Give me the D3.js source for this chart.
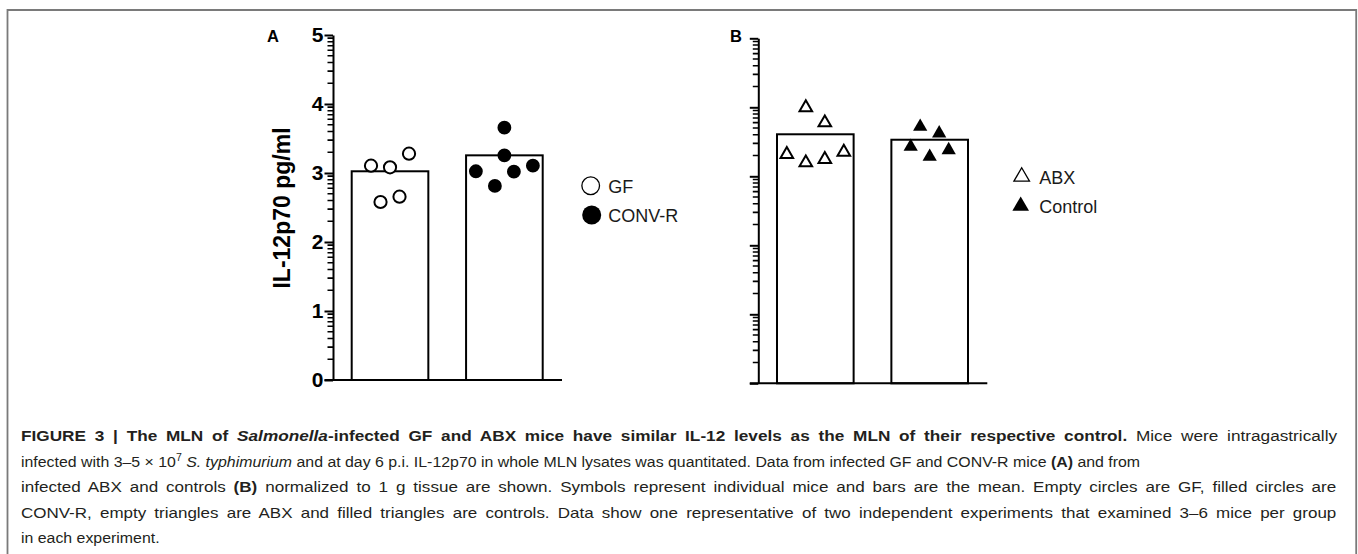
<!DOCTYPE html>
<html>
<head>
<meta charset="utf-8">
<script src="https://cdn.jsdelivr.net/npm/d3@7"></script>
<style>
  body { margin: 0; background: #fff; }
  svg { display: block; font-family: "Liberation Sans", Arial, Helvetica, sans-serif; }
</style>
</head>
<body>
<script>
// IL-12p70 in MLN lysates (pg/ml, log axis, labels are log10)
const groupsA = ["GF", "CONV-R"];
const gfValues = [1276, 1208, 1905, 380, 454];
const gfJitter = [-2, 0, 2, -1, 1];
const convValues = [4540, 1803, 1059, 1045, 1276, 649];
const convJitter = [0, 0, -3, 1, 3, -1];
const meansA = [1059, 1803];

const groupsB = ["ABX", "Control"];
const abxValues = [9908, 5984, 2084, 1574, 1762, 2249];
const abxJitter = [-1, 1, -3, -1, 1, 3];
const ctrlValues = [5236, 4198, 2685, 1923, 2404];
const ctrlJitter = [-1, 1, -2, 0, 2];
const meansB = [4064, 3388];

const majorTicks = [1, 10, 100, 1000, 10000, 100000];
const minorMult = [2, 3, 4, 5, 6, 7, 8, 9];
const yLabel = "IL-12p70 pg/ml";

const w = 1358;
const h = 554;

const svg = d3.select("body")
              .append("svg")
                .attr("width", w)
                .attr("height", h);

// frame around figure + caption
svg.append("path")
    .attr("d", "M7.5," + h + "V10H1356.2V" + h)
    .attr("fill", "none")
    .attr("stroke", "#7a7a7a")
    .attr("stroke-width", 1.8);

function plot(p){
  const g = svg.append("g")
              .attr("transform", "translate(" + p.x0 + "," + p.y0 + ")");

  const y = d3.scaleLog()
              .domain([1, 100000])
              .range([0, -345]);

  const x = d3.scaleBand()
              .domain(p.groups)
              .range([18.7, 209.7])
              .paddingInner(0.33)
              .paddingOuter(0);

  const jit = d3.scaleLinear()
                .domain([-3, 3])
                .range([-28.5, 28.5]);

  // bars (mean)
  g.selectAll(".bar")
    .data(p.means)
    .enter()
      .append("rect")
      .classed("bar", true)
      .attr("x", (d, i) => x(p.groups[i]))
      .attr("y", d => y(d))
      .attr("width", x.bandwidth())
      .attr("height", d => y(1) - y(d))
      .attr("fill", "#fff")
      .attr("stroke", "#000")
      .attr("stroke-width", 2);

  // individual mice
  p.series.forEach((s, si) => {
    const cx = x(p.groups[si]) + x.bandwidth() / 2;
    g.selectAll(".pt" + si)
      .data(s.values)
      .enter()
        .append("path")
        .attr("transform", (d, i) => "translate(" + (cx + jit(s.jitter[i])) + "," + y(d) + ")")
        .attr("d", d3.symbol().type(s.shape).size(s.filled ? s.size : s.size * 0.78))
        .attr("fill", s.filled ? "#000" : "#fff")
        .attr("stroke", "#000")
        .attr("stroke-width", s.filled ? 0 : 2);
  });

  // major ticks and axis
  const yAxis = g.append("g")
                  .call(d3.axisLeft(y)
                          .tickValues(majorTicks)
                          .tickSize(8.5)
                          .tickSizeOuter(0)
                          .tickPadding(1)
                          .tickFormat(d => p.labels ? Math.round(Math.log10(d)) : ""));
  yAxis.select(".domain").attr("stroke-width", 2);
  yAxis.selectAll("line").attr("stroke-width", 2);
  yAxis.selectAll("text")
        .style("font-size", "21px")
        .style("font-weight", "bold")
        .attr("fill", "#000");

  // minor ticks (2..9 x 10^k) as one path
  const minorVals = [];
  majorTicks.slice(0, -1).forEach(m => minorMult.forEach(c => minorVals.push(c * m)));
  g.append("path")
    .attr("class", "minor-ticks")
    .attr("d", minorVals.map(d => "M-5.5," + y(d).toFixed(2) + "H0").join(""))
    .attr("fill", "none")
    .attr("stroke", "#000")
    .attr("stroke-width", 1.6);

  // x baseline
  g.append("line")
    .attr("x1", -8.5)
    .attr("x2", 229)
    .attr("y1", y(1))
    .attr("y2", y(1))
    .attr("stroke", "#000")
    .attr("stroke-width", 2);

  // panel letter
  svg.append("text")
      .attr("x", p.letterX)
      .attr("y", 42)
      .style("font-size", "16.5px")
      .style("font-weight", "bold")
      .text(p.letter);

  // legend
  const lg = g.append("g")
              .attr("transform", "translate(" + p.legend[0] + "," + p.legend[1] + ")");
  p.series.forEach((s, si) => {
    lg.append("path")
      .attr("transform", "translate(" + (s.shape === d3.symbolTriangle ? -1 * si : si) + "," + (si * 29.3) + ")")
      .attr("d", d3.symbol().type(s.shape).size(s.legendSize))
      .attr("fill", s.filled ? "#000" : "#fff")
      .attr("stroke", "#000")
      .attr("stroke-width", s.filled ? 0 : 1.3);
    lg.append("text")
      .attr("x", 17.5)
      .attr("y", si * 29.3 + 1)
      .attr("dy", "0.35em")
      .style("font-size", "18px")
      .attr("fill", "#1a1a1a")
      .text(p.groups[si]);
  });

  return g;
}

// panel A
const gA = plot({
  x0: 333, y0: 380, letter: "A", letterX: 267, labels: true,
  groups: groupsA, means: meansA, legend: [257.7, -194.3],
  series: [
    {values: gfValues, jitter: gfJitter, shape: d3.symbolCircle, filled: false, size: 150, legendSize: 245},
    {values: convValues, jitter: convJitter, shape: d3.symbolCircle, filled: true, size: 150, legendSize: 285}
  ]
});

gA.append("text")
    .attr("transform", "translate(-51,-172) rotate(-90)")
    .attr("text-anchor", "middle")
    .attr("dy", "0.35em")
    .style("font-size", "23px")
    .style("font-weight", "bold")
    .text(yLabel);

// panel B
plot({
  x0: 758.3, y0: 383.3, letter: "B", letterX: 730, labels: false,
  groups: groupsB, means: meansB, legend: [263.4, -206.6],
  series: [
    {values: abxValues, jitter: abxJitter, shape: d3.symbolTriangle, filled: false, size: 88, legendSize: 105},
    {values: ctrlValues, jitter: ctrlJitter, shape: d3.symbolTriangle, filled: true, size: 88, legendSize: 120}
  ]
});

// caption
const captionLines = [
  [["b", "FIGURE 3 | The MLN of "], ["bi", "Salmonella"], ["b", "-infected GF and ABX mice have similar IL-12 levels as the MLN of their respective control."], ["n", " Mice were intragastrically"]],
  [["n", "infected with 3\u20135 \u00d7 10"], ["sup", "7"], ["n2", " "], ["i", "S. typhimurium"], ["n", " and at day 6 p.i. IL-12p70 in whole MLN lysates was quantitated. Data from infected GF and CONV-R mice "], ["b", "(A)"], ["n", " and from"]],
  [["n", "infected ABX and controls "], ["b", "(B)"], ["n", " normalized to 1 g tissue are shown. Symbols represent individual mice and bars are the mean. Empty circles are GF, filled circles are"]],
  [["n", "CONV-R, empty triangles are ABX and filled triangles are controls. Data show one representative of two independent experiments that examined 3\u20136 mice per group"]],
  [["n", "in each experiment."]]
];
// justified lines end at the right margin; line 2 sets the glyph scale
const captionEnds = [1338, 1141, 1338, 1337, null];
const capX = 21;

const capTexts = captionLines.map((line, li) => {
  const t = svg.append("text")
                .attr("y", 441 + li * 25.6)
                .style("font-size", "15px")
                .attr("fill", "#231f20");
  line.forEach(seg => {
    const ts = t.append("tspan").text(seg[1]);
    if (seg[0] === "b" || seg[0] === "bi") ts.style("font-weight", "bold");
    if (seg[0] === "i" || seg[0] === "bi") ts.style("font-style", "italic");
    if (seg[0] === "sup") ts.style("font-size", "10px").attr("dy", "-6");
    if (seg[0] === "n2") ts.attr("dy", "6");
  });
  return t;
});

const capScale = (captionEnds[1] - capX) / capTexts[1].node().getComputedTextLength();
capTexts.forEach((t, li) => {
  let kl = capScale;
  if (captionEnds[li] && li !== 1) {
    // stretch half by glyph width, half by word spacing
    const natural = t.node().getComputedTextLength();
    const r = (captionEnds[li] - capX) / (natural * capScale);
    kl = capScale * (1 + (r - 1) / 2);
    const spaces = captionLines[li].map(s => s[1]).join("").split(" ").length - 1;
    const extra = ((captionEnds[li] - capX) / kl - natural) / spaces;
    t.style("word-spacing", extra + "px");
  }
  t.attr("transform", "translate(" + capX + ",0) scale(" + kl + ",1)");
});
</script>
</body>
</html>
